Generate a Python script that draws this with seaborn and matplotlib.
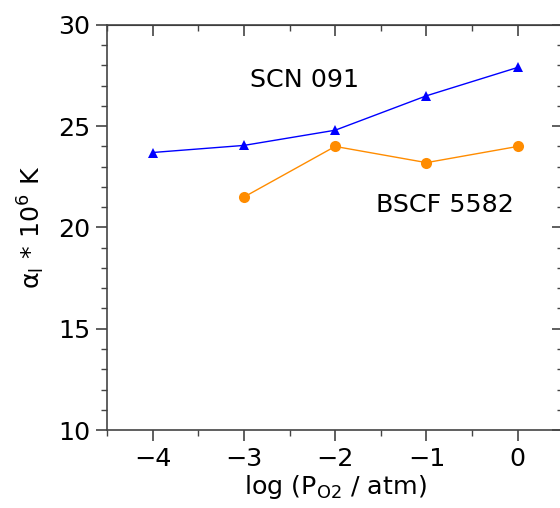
import numpy as np
import pandas as pd
import matplotlib
matplotlib.use('Agg')
import matplotlib.pyplot as plt
import seaborn as sns
from matplotlib.ticker import MultipleLocator

# data
log_po2 = [-4, -3, -2, -1, 0]
scn_091 = [23.7, 24.05, 24.8, 26.5, 27.9]
bscf_log_po2 = [-3, -2, -1, 0]
bscf_5582 = [21.5, 24.0, 23.2, 24.0]

sns.set_style('ticks')
plt.rcParams['font.family'] = ['DejaVu Sans']
plt.rcParams['mathtext.default'] = 'regular'
plt.rcParams['text.color'] = 'black'
plt.rcParams['axes.labelcolor'] = 'black'
plt.rcParams['xtick.labelcolor'] = 'black'
plt.rcParams['ytick.labelcolor'] = 'black'

fs = 18.3

scn = pd.DataFrame({'x': log_po2, 'y': scn_091})
bscf = pd.DataFrame({'x': bscf_log_po2, 'y': bscf_5582})

fig = plt.figure(figsize=(5.6, 5.08), dpi=100)
ax = fig.add_axes([0.191, 0.1535, 0.815, 0.7975])

sns.lineplot(data=scn, x='x', y='y', ax=ax, color='#0000ff', lw=1.0,
             marker='^', markersize=7, markeredgewidth=0)
sns.lineplot(data=bscf, x='x', y='y', ax=ax, color='#ff8c00', lw=1.0,
             marker='o', markersize=8, markeredgewidth=0)

ax.set_xlim(-4.5, 0.5)
ax.set_ylim(10, 30)
ax.xaxis.set_minor_locator(MultipleLocator(0.5))
ax.yaxis.set_major_locator(MultipleLocator(5))
ax.yaxis.set_minor_locator(MultipleLocator(1))
ax.set_xticks([-4, -3, -2, -1, 0])
ax.set_xticklabels(['\u22124', '\u22123', '\u22122', '\u22121', '0'])

for s in ax.spines.values():
    s.set_color('#444444')
    s.set_linewidth(1.2)

ax.tick_params(which='major', direction='out', length=8, width=1.2,
               color='#444444', labelsize=fs, pad=4)
ax.tick_params(which='minor', direction='out', length=4, width=1.0,
               color='#444444')

# mirrored ticks on top and right, pointing inward
top = ax.secondary_xaxis('top')
top.xaxis.set_major_locator(MultipleLocator(1))
top.xaxis.set_minor_locator(MultipleLocator(0.5))
top.tick_params(which='major', direction='in', length=8, width=1.2,
                color='#444444', labeltop=False)
top.tick_params(which='minor', direction='in', length=4, width=1.0,
                color='#444444')
right = ax.secondary_yaxis('right')
right.yaxis.set_major_locator(MultipleLocator(5))
right.yaxis.set_minor_locator(MultipleLocator(1))
right.tick_params(which='major', direction='in', length=8, width=1.2,
                  color='#444444', labelright=False)
right.tick_params(which='minor', direction='in', length=4, width=1.0,
                  color='#444444')

ax.set_xlabel('log (P$_{O2}$ / atm)', fontsize=fs, labelpad=2)
ax.set_ylabel(r'$\alpha_l$ * 10$^6$ K', fontsize=fs, labelpad=8)

ax.text(-2.34, 27.3, 'SCN 091', fontsize=fs, ha='center', va='center')
ax.text(-0.8, 21.1, 'BSCF 5582', fontsize=fs, ha='center', va='center')

fig.savefig('out.png', dpi=100)
